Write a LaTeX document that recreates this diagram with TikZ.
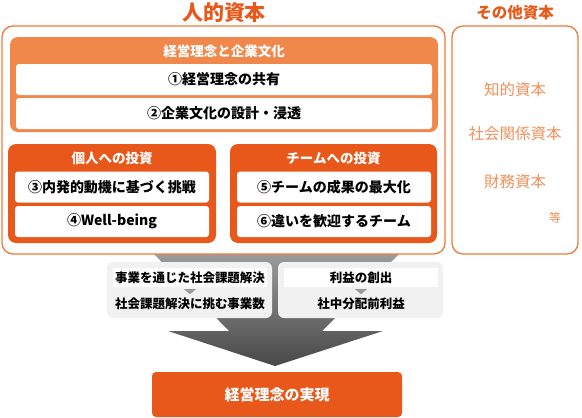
\documentclass[tikz,border=0pt]{standalone}
\usepackage{fontspec}
\newfontfamily\jp{Noto Sans CJK JP}
\usetikzlibrary{calc}
\definecolor{deeporange}{HTML}{E8581A}
\definecolor{softorange}{HTML}{F0884C}
\definecolor{lineorange}{HTML}{F07A3A}
\definecolor{paleorange}{HTML}{F0905A}
\definecolor{boxgray}{HTML}{F1F1F1}
\definecolor{tipgray}{HTML}{9A9A9A}
\tikzset{
  every node/.style={inner sep=0pt},
  frame/.style={draw=lineorange, line width=1.3pt, fill=white, rounded corners=11pt},
  rowbox/.style={fill=white, rounded corners=3pt, minimum height=31pt, font=\jp\bfseries\fontsize{14}{16}\selectfont},
  head/.style={text=white, font=\jp\bfseries\fontsize{13.5}{16}\selectfont},
  other/.style={text=paleorange, font=\jp\fontsize{15.5}{18}\selectfont},
  graybox/.style={fill=boxgray, rounded corners=6pt, minimum width=165pt, minimum height=56pt},
  strip/.style={fill=white, minimum width=154pt, minimum height=19pt, font=\jp\bfseries\fontsize{12.5}{14}\selectfont},
  plain/.style={font=\jp\bfseries\fontsize{12.5}{14}\selectfont},
  tipmark/.style={fill=tipgray}
}
\begin{document}
\begin{tikzpicture}[x=1pt,y=-1pt]
\useasboundingbox (0,0) rectangle (582,418);

% big gray funnel arrow
\shade[top color=black!38, bottom color=black!72]
  (150,250)--(403,250)--(322,331)--(383,331)--(275,366)--(168,331)--(229,331)--cycle;

% frames
\draw[frame] (2,26) rectangle (445,254);
\draw[frame] (452,26) rectangle (578,254);
\node[text=deeporange, font=\jp\bfseries\fontsize{21}{24}\selectfont] (human) at (224,13) {人的資本};
\node[text=deeporange, font=\jp\bfseries\fontsize{15.5}{18}\selectfont] (others) at (515,13) {その他資本};

% philosophy and culture
\fill[softorange, rounded corners=8pt] (10,37) rectangle (438,132);
\node[head] (culture) at (224,51) {経営理念と企業文化};
\node[rowbox, minimum width=416pt] (r1) at (224,79.5) {①経営理念の共有};
\node[rowbox, minimum width=416pt] (r2) at (224,113.5) {②企業文化の設計・浸透};

% investment blocks
\fill[deeporange, rounded corners=8pt] (8,144) rectangle (216,243);
\fill[deeporange, rounded corners=8pt] (230,144) rectangle (437,243);
\node[head] (person) at (112,158) {個人への投資};
\node[head] (team) at (333.5,158) {チームへの投資};
\node[rowbox, minimum width=194pt] (r3) at (112,187) {③内発的動機に基づく挑戦};
\node[rowbox, minimum width=194pt] (r4) at (112,221.5) {④Well-being};
\node[rowbox, minimum width=194pt] (r5) at (334,187) {⑤チームの成果の最大化};
\node[rowbox, minimum width=194pt] (r6) at (334,221.5) {⑥違いを歓迎するチーム};

% other capitals
\node[other] (intel) at (515,90) {知的資本};
\node[other] (social) at (515,134) {社会関係資本};
\node[other] (finance) at (515,182) {財務資本};
\node[other, font=\jp\fontsize{12}{14}\selectfont] (etc) at (555,218) {等};

% indicators
\node[graybox] (gl) at (189.5,290) {};
\node[graybox] (gr) at (360.5,290) {};
\node[strip] (s1) at (190,277.5) {事業を通じた社会課題解決};
\node[plain] (s2) at (190,304) {社会課題解決に挑む事業数};
\node[strip] (s3) at (361,277.5) {利益の創出};
\node[plain] (s4) at (361,304) {社中分配前利益};
\fill[tipmark] ($(s1.south)+(-6,2)$)--($(s1.south)+(6,2)$)--($(s1.south)+(0,7)$)--cycle;
\fill[tipmark] ($(s3.south)+(-6,2)$)--($(s3.south)+(6,2)$)--($(s3.south)+(0,7)$)--cycle;

% goal
\node[fill=deeporange, rounded corners=4pt, minimum width=250pt, minimum height=45pt,
  text=white, font=\jp\bfseries\fontsize{15}{18}\selectfont] (goal) at (277,394.5) {経営理念の実現};
\end{tikzpicture}
\end{document}
